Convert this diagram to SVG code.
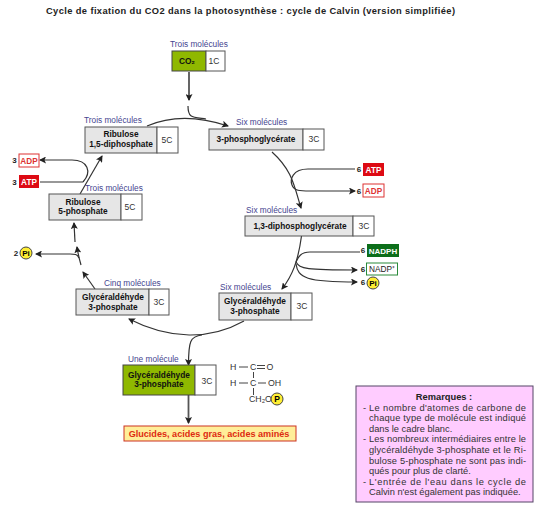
<svg xmlns="http://www.w3.org/2000/svg" width="545" height="512" viewBox="0 0 545 512">
<style>
text{font-family:"Liberation Sans",Arial,sans-serif}
.t{font-size:8.300px;font-weight:700;text-anchor:middle;fill:#111}
.c{font-size:8.500px;text-anchor:middle;fill:#333}
.l{font-size:8.300px;fill:#45458f}
.n{font-size:8px;font-weight:700;fill:#222;text-anchor:middle}
.b{fill:#e6e6e6;stroke:#555;stroke-width:1}
.g{fill:#8fb800;stroke:#444;stroke-width:1}
.w{fill:#fff;stroke:#555;stroke-width:1}
.a{fill:none;stroke:#333;stroke-width:1.2;marker-end:url(#h)}
.v{fill:none;stroke:#555;stroke-width:1.800;marker-end:url(#h)}
.p{fill:none;stroke:#333;stroke-width:1.2}
.y{fill:#ffee33;stroke:#444;stroke-width:1}
.f{font-size:8.800px;fill:#333}
.r{font-size:9.300px;fill:#333}
</style>
<defs><marker id="h" markerWidth="7" markerHeight="7" refX="6" refY="3.5" orient="auto" markerUnits="userSpaceOnUse"><path d="M0 0L7 3.5L0 7L1.500 3.5Z" fill="#222"/></marker></defs>
<text x="46" y="14" textLength="409" style="font-size:9.300px;font-weight:700" fill="#222">Cycle de fixation du CO2 dans la photosynthèse : cycle de Calvin (version simplifiée)</text>
<g id="connectors">
<path class="v" d="M189 72V100"/>
<path class="p" d="M188 106C188 118 192 117 206 119"/>
<path class="a" d="M147 126C170 116 195 115 228 126"/>
<path class="a" d="M80 194L102 156"/>
<path class="a" d="M83 182C92 172 88 160 72 160H40"/>
<path class="p" d="M40 182H83"/>
<path class="a" d="M75 242L74 223"/>
<path class="a" d="M81 265C79 258 78 254 77 247"/>
<path class="a" d="M79 258C77 254 75 254 70 254H36"/>
<path class="a" d="M95 289L83 272"/>
<path class="a" d="M244 321C210 340 170 340 129 319"/>
<path class="a" d="M202 335C190 336 188.500 342 188.500 365"/>
<path class="v" d="M188.500 395V423"/>
<path class="a" d="M272 152C292 170 294 185 301 208"/>
<path class="p" d="M355 169H308C292 169 290 180 292 185"/>
<path class="a" d="M292 185C294 191 300 191 310 191H355"/>
<path class="a" d="M301.500 236C298 262 292 276 282 289"/>
<path class="p" d="M360 252H310C300 252 298 258 296 262"/>
<path class="a" d="M296 262C300 269 306 270 357 270"/>
<path class="a" d="M296 264C298 278 306 282 357 282"/>
</g>
<g id="co2"><text class="l" x="170" y="47">Trois molécules</text><rect class="g" x="172" y="51" width="34" height="20"/><rect class="w" x="206" y="51" width="19" height="20"/><text class="t" x="187" y="64">CO₂</text><text class="c" x="214" y="64">1C</text></g>
<g id="rubp"><text class="l" x="84" y="123">Trois molécules</text><rect class="b" x="85" y="127" width="72" height="26"/><rect class="w" x="157" y="127" width="21" height="26"/><text class="t" x="121" y="137">Ribulose</text><text class="t" x="121" y="147">1,5-diphosphate</text><text class="c" x="167" y="143">5C</text></g>
<g id="pga"><text class="l" x="236" y="125">Six molécules</text><rect class="b" x="209" y="129" width="94" height="21"/><rect class="w" x="303" y="129" width="21" height="21"/><text class="t" x="256" y="142">3-phosphoglycérate</text><text class="c" x="314" y="142">3C</text></g>
<g id="ru5p"><text class="l" x="85" y="191">Trois molécules</text><rect class="b" x="49" y="194" width="72" height="26"/><rect class="w" x="121" y="194" width="21" height="26"/><text class="t" x="83" y="205">Ribulose</text><text class="t" x="83" y="214">5-phosphate</text><text class="c" x="130" y="210">5C</text></g>
<g id="bpg"><text class="l" x="246" y="213">Six molécules</text><rect class="b" x="245" y="216" width="108" height="20"/><rect class="w" x="353" y="216" width="21" height="20"/><text class="t" x="300" y="229">1,3-diphosphoglycérate</text><text class="c" x="364" y="229">3C</text></g>
<g id="g3p-left"><text class="l" x="104" y="286">Cinq molécules</text><rect class="b" x="76" y="289" width="73" height="26"/><rect class="w" x="149" y="289" width="20" height="26"/><text class="t" x="113" y="300">Glycéraldéhyde</text><text class="t" x="113" y="310">3-phosphate</text><text class="c" x="159" y="305">3C</text></g>
<g id="g3p-right"><text class="l" x="220" y="290">Six molécules</text><rect class="b" x="219" y="293" width="72" height="27"/><rect class="w" x="291" y="293" width="21" height="27"/><text class="t" x="255" y="304">Glycéraldéhyde</text><text class="t" x="255" y="314">3-phosphate</text><text class="c" x="302" y="309">3C</text></g>
<g id="g3p-out"><text class="l" x="128" y="362">Une molécule</text><rect class="g" x="123" y="365" width="72" height="30"/><rect class="w" x="195" y="365" width="21" height="30"/><text class="t" x="159" y="378">Glycéraldéhyde</text><text class="t" x="159" y="387">3-phosphate</text><text class="c" x="207" y="384">3C</text></g>
<g id="products"><rect x="124" y="426" width="172" height="15" fill="#ffee99" stroke="#cc3322"/><text x="209" y="436.500" text-anchor="middle" style="font-size:9.100px;font-weight:700" fill="#dd2a10">Glucides, acides gras, acides aminés</text></g>
<g id="formula">
<text class="f" x="230" y="370">H</text><text class="f" x="250" y="370">C</text><text class="f" x="266.500" y="370">O</text>
<text class="f" x="230" y="386">H</text><text class="f" x="250" y="386">C</text><text class="f" x="268" y="386">OH</text>
<text class="f" x="249" y="402">CH₂O</text>
<path d="M239 367H248M257 365.500H265M257 368.500H265M239 383H248M258 383H266M253.500 372V378M253.500 388V395" stroke="#444" fill="none"/>
<circle class="y" cx="277" cy="399" r="6"/><text x="277" y="402" text-anchor="middle" style="font-size:8.500px;font-weight:700">P</text>
</g>
<g id="adp-left"><text class="n" x="14.500" y="163">3</text><rect x="19" y="154" width="20" height="13" fill="#fff" stroke="#dd3333"/><text x="29" y="163.500" text-anchor="middle" style="font-size:8.200px;font-weight:700" fill="#d33">ADP</text></g>
<g id="atp-left"><text class="n" x="14.500" y="185">3</text><rect x="19" y="175" width="20" height="13" fill="#dd0a14"/><text x="29" y="184.500" text-anchor="middle" style="font-size:8.200px;font-weight:700" fill="#fff">ATP</text></g>
<g id="pi-left"><text class="n" x="16" y="256">2</text><circle class="y" cx="26" cy="253" r="6"/><text x="26" y="256" text-anchor="middle" style="font-size:8px;font-weight:700">Pi</text></g>
<g id="atp-right"><text class="n" x="359" y="172">6</text><rect x="363" y="163" width="21" height="13" fill="#dd0a14"/><text x="373.500" y="172.500" text-anchor="middle" style="font-size:8.200px;font-weight:700" fill="#fff">ATP</text></g>
<g id="adp-right"><text class="n" x="359" y="193.500">6</text><rect x="363" y="184" width="21" height="13" fill="#fff" stroke="#dd3333"/><text x="373.500" y="193.500" text-anchor="middle" style="font-size:8.200px;font-weight:700" fill="#d33">ADP</text></g>
<g id="nadph"><text class="n" x="363" y="253">6</text><rect x="367" y="244" width="32" height="13" fill="#0c6e1a"/><text x="383" y="253.500" text-anchor="middle" style="font-size:8px;font-weight:700" fill="#fff">NADPH</text></g>
<g id="nadp"><text class="n" x="363" y="272">6</text><rect x="366.500" y="263" width="31" height="12" fill="#fff" stroke="#2a8a3a"/><text x="382" y="272" text-anchor="middle" style="font-size:8.300px" fill="#222">NADP⁺</text></g>
<g id="pi-right"><text class="n" x="363" y="285">6</text><circle class="y" cx="373" cy="283" r="6"/><text x="373" y="286" text-anchor="middle" style="font-size:8px;font-weight:700">Pi</text></g>
<g id="notes"><rect x="356" y="386" width="177" height="116" fill="#ffccff" stroke="#554466"/>
<text x="444" y="400" text-anchor="middle" style="font-size:9.300px;font-weight:700" fill="#222">Remarques :</text>
<text class="r" x="363" y="411">-</text><text class="r" x="369" y="411" textLength="157">Le nombre d'atomes de carbone de</text>
<text class="r" x="369" y="421" textLength="157">chaque type de molécule est indiqué</text>
<text class="r" x="369" y="432">dans le cadre blanc.</text>
<text class="r" x="363" y="442">-</text><text class="r" x="369" y="442" textLength="157">Les nombreux intermédiaires entre le</text>
<text class="r" x="369" y="453" textLength="157">glycéraldéhyde 3-phosphate et le Ri-</text>
<text class="r" x="369" y="464" textLength="157">bulose 5-phosphate ne sont pas indi-</text>
<text class="r" x="369" y="474">qués pour plus de clarté.</text>
<text class="r" x="363" y="485">-</text><text class="r" x="369" y="485" textLength="157">L'entrée de l'eau dans le cycle de</text>
<text class="r" x="369" y="495">Calvin n'est également pas indiquée.</text>
</g>
</svg>
